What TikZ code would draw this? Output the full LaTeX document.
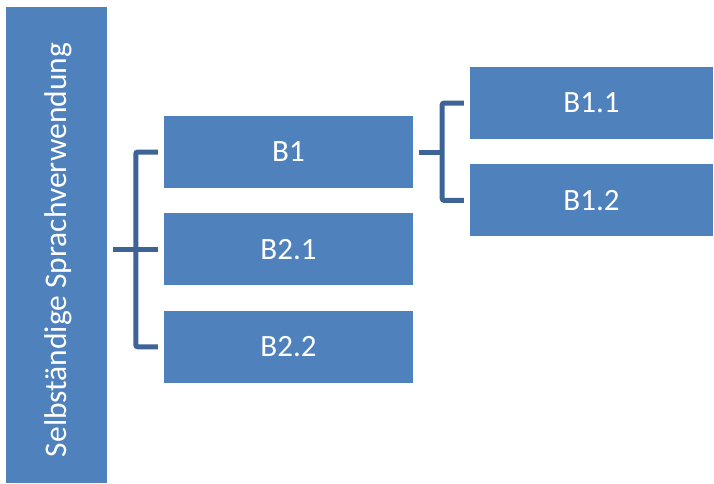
\documentclass[tikz,border=0pt]{standalone}
\usepackage{fontspec}
\setmainfont{Carlito}
\usepackage{tikz}
\usetikzlibrary{positioning, calc}

\definecolor{boxblue}{HTML}{4F81BD}
\definecolor{linkblue}{HTML}{3E6497}

\begin{document}
\begin{tikzpicture}[
    x=1pt, y=-1pt,
    node distance=25pt and 57pt,
    block/.style={rectangle, fill=boxblue, text=white, minimum width=249pt, minimum height=72pt, inner sep=0pt, font=\fontsize{31}{36}\selectfont},
    subblock/.style={block, minimum width=243pt},
    conn/.style={draw=linkblue, line width=5pt, rounded corners=2pt}
]
    \useasboundingbox (0,0) rectangle (714,483);

    % Nodes
    \node[rectangle, fill=boxblue, minimum width=101pt, minimum height=476pt, inner sep=0pt] (sel) at (56.5,245) {};
    \node[rotate=90, text=white, font=\fontsize{31.5}{36}\selectfont] (seltext) at ($(sel.center)+(2,5)$) {Selbständige Sprachverwendung};
    \node[block] (b1) at (288.5,152) {B1};
    \node[block, below=25pt of b1] (b21) {B2.1};
    \node[block, below=25pt of b21] (b22) {B2.2};
    \node[subblock] (b11) at (591.5,103) {B1.1};
    \node[subblock, below=25pt of b11] (b12) {B1.2};

    % Connectors
    \coordinate (lj) at ($(b1.west)+(-28pt,0)$);
    \coordinate (rj) at ($(b1.east)+(29pt,0)$);
    \draw[conn] ([xshift=-6pt]b1.west) -- (lj) |- ([xshift=-6pt]b22.west);
    \draw[conn] ([xshift=6pt]sel.east |- b21.west) -- ([xshift=-6pt]b21.west);
    \draw[conn] ([xshift=-6pt]b11.west) -| (rj) |- ([xshift=-6pt]b12.west);
    \draw[conn] ([xshift=6pt]b1.east) -- (rj);
\end{tikzpicture}
\end{document}
